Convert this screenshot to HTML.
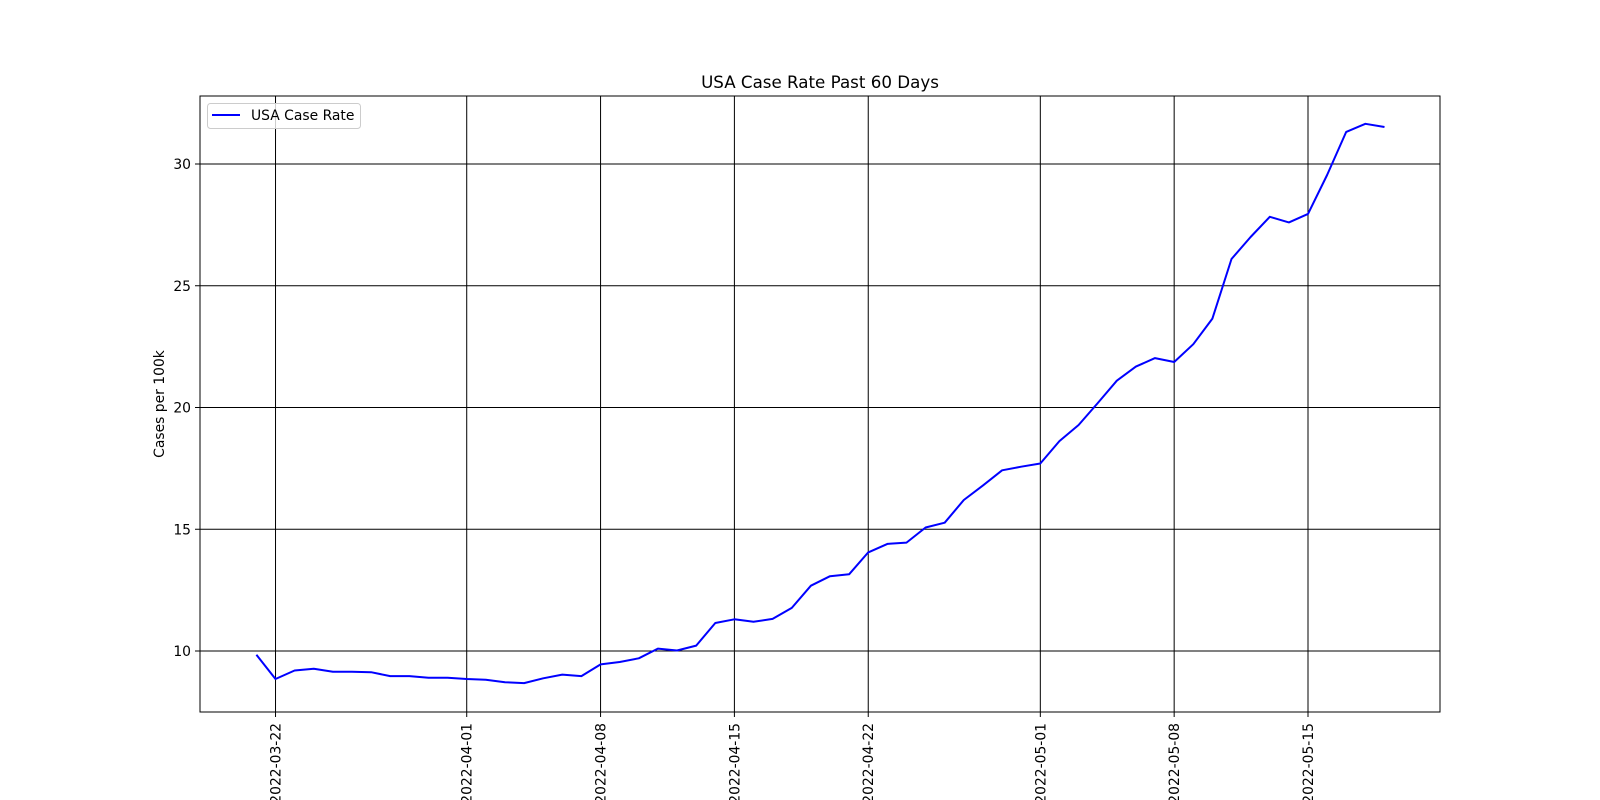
<!DOCTYPE html>
<html><head><meta charset="utf-8"><style>
html,body{margin:0;padding:0;background:#fff;}
svg{display:block;font-family:"DejaVu Sans","Liberation Sans",sans-serif;}
</style></head><body>
<svg id="chart" width="1600" height="800" viewBox="0 0 1600 800">
<rect x="0" y="0" width="1600" height="800" fill="#fff"/>
<text x="820" y="88" text-anchor="middle" font-size="16.7">USA Case Rate Past 60 Days</text>
<text transform="translate(164,404) rotate(-90)" text-anchor="middle" font-size="13.9">Cases per 100k</text>
<g id="grid"></g>
<g id="series"></g>
<g id="axes"></g>
<g>
<rect x="207.5" y="103.5" width="153" height="25" fill="#fff" fill-opacity="0.8" stroke="#ccc" rx="3"/>
<line x1="212" y1="115" x2="240" y2="115" stroke="#0000ff" stroke-width="2"/>
<text x="251" y="120" font-size="13.9">USA Case Rate</text>
</g>
</svg>
<script>
const startDate = "2022-03-21";
const values = [9.85,8.85,9.2,9.27,9.15,9.15,9.13,8.97,8.97,8.9,8.9,8.85,8.82,8.72,8.68,8.88,9.03,8.97,9.45,9.55,9.7,10.1,10.02,10.22,11.15,11.3,11.2,11.32,11.77,12.68,13.07,13.15,14.05,14.4,14.45,15.07,15.27,16.2,16.8,17.42,17.57,17.7,18.62,19.28,20.18,21.1,21.68,22.03,21.87,22.6,23.65,26.1,27.0,27.83,27.6,27.95,29.55,31.32,31.65,31.52];
const xTickLabels = ["2022-03-22","2022-04-01","2022-04-08","2022-04-15","2022-04-22","2022-05-01","2022-05-08","2022-05-15"];
const yTicks = [10,15,20,25,30];

const NS="http://www.w3.org/2000/svg";
const L=200,R=1440,T=96,B=712;
const day0=Date.parse(startDate+"T00:00:00Z");
const dayOf=s=>(Date.parse(s+"T00:00:00Z")-day0)/86400000;
const xScale=d=>256.4+19.12*d;
const yScale=v=>651-(v-10)*24.35;
function mk(tag,attrs,parent){const e=document.createElementNS(NS,tag);for(const k in attrs)e.setAttribute(k,attrs[k]);parent.appendChild(e);return e;}
const grid=document.getElementById('grid'),axes=document.getElementById('axes'),series=document.getElementById('series');
xTickLabels.forEach(lbl=>{
  const x=xScale(dayOf(lbl));
  const g=mk('line',{x1:x,y1:T,x2:x,y2:B,stroke:'#000','stroke-width':1},grid);
  
  
  const t=mk('line',{x1:x,y1:B,x2:x,y2:B+5,stroke:'#000'},axes);
  
  
  const tx=mk('text',{transform:`translate(${x+5},${B+11}) rotate(-90)`,'text-anchor':'end','font-size':13.9},axes);
  tx.textContent=lbl;
  
  
});
yTicks.forEach(v=>{
  const y=yScale(v);
  const g=mk('line',{x1:L,y1:y,x2:R,y2:y,stroke:'#000','stroke-width':1},grid);
  
  
  const t=mk('line',{x1:L-5,y1:y,x2:L,y2:y,stroke:'#000'},axes);
  
  
  const tx=mk('text',{x:L-9,y:y+5,'text-anchor':'end','font-size':13.9},axes);
  tx.textContent=String(v);
  
  
});
const frame=mk('rect',{x:L,y:T,width:R-L,height:B-T,fill:'none',stroke:'#000','stroke-width':1},axes);


const pts=values.map((v,i)=>xScale(i).toFixed(1)+','+yScale(v).toFixed(1)).join(' ');
const line=mk('polyline',{points:pts,fill:'none',stroke:'#0000ff','stroke-width':2,'stroke-linejoin':'round'},series);


</script>
</body></html>
